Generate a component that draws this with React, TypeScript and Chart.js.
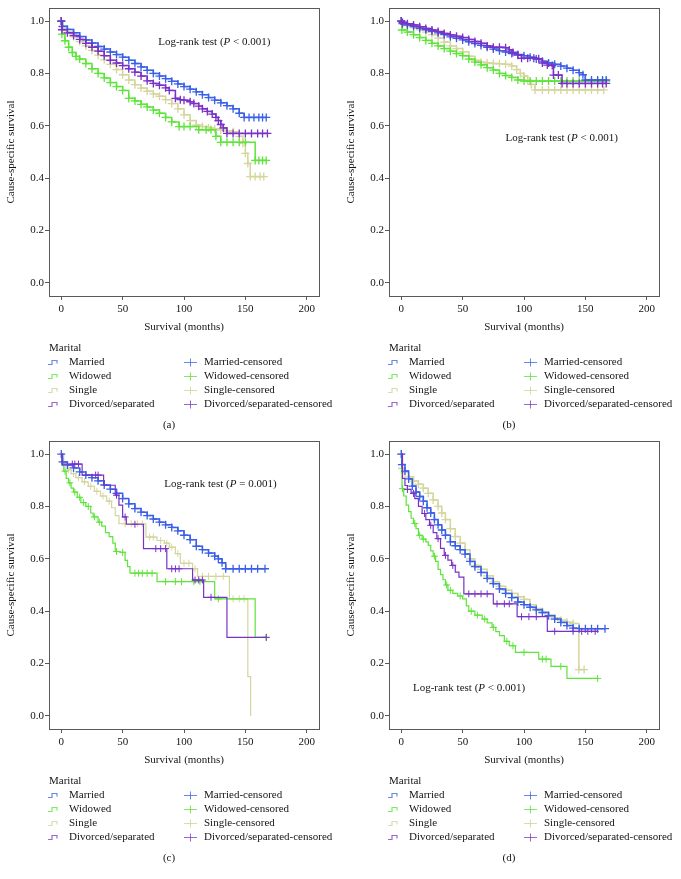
import React, { useEffect, useRef } from "react";
import { Chart, registerables } from "chart.js";

Chart.register(...registerables);

const FONT = '"Liberation Serif", "Times New Roman", Times, serif';
const TEXT = "#141414";
const FRAME = "#58595b";

const xTicks = [0, 50, 100, 150, 200];
const yTicks = [0, 0.2, 0.4, 0.6, 0.8, 1.0];
const xTitle = "Survival (months)";
const yTitle = "Cause-specific survival";
const legendTitle = "Marital";
const groupNames = ["Married", "Widowed", "Single", "Divorced/separated"];
const groupColors = ["#3a5fe8", "#5ee43a", "#d5d59e", "#7a31c6"];
const legendColors = ["rgba(58,95,232,0.75)", "rgba(94,228,58,0.8)", "rgba(213,213,158,0.85)", "rgba(122,49,198,0.75)"];

// ---------- Panel (a) ----------
const aMarriedT = [0, 1, 5, 10, 15, 20, 25, 30, 35, 40, 45, 50, 55, 60, 65, 70, 75, 80, 85, 90, 95, 100, 105, 110, 115, 120, 125, 130, 135, 140, 145, 149, 153, 157, 161, 164, 167];
const aMarriedS = [1.0, 0.98, 0.968, 0.955, 0.941, 0.928, 0.916, 0.903, 0.893, 0.882, 0.872, 0.862, 0.85, 0.838, 0.825, 0.812, 0.8, 0.79, 0.78, 0.77, 0.76, 0.75, 0.74, 0.73, 0.719, 0.708, 0.698, 0.688, 0.677, 0.665, 0.648, 0.632, 0.632, 0.632, 0.632, 0.632, 0.632];
const aWidowedT = [0, 0.5, 3, 6, 9, 12, 15, 20, 25, 30, 35, 40, 45, 50, 55, 60, 65, 70, 75, 80, 85, 90, 96, 100, 105, 112, 118, 122, 126, 130, 135, 140, 145, 150, 158, 161, 164, 167];
const aWidowedS = [1.0, 0.95, 0.925, 0.9, 0.88, 0.865, 0.855, 0.838, 0.818, 0.8, 0.783, 0.765, 0.75, 0.735, 0.705, 0.695, 0.682, 0.672, 0.66, 0.648, 0.632, 0.615, 0.597, 0.597, 0.597, 0.585, 0.585, 0.585, 0.56, 0.537, 0.537, 0.537, 0.537, 0.537, 0.468, 0.468, 0.468, 0.468];
const aSingleT = [0, 1, 5, 10, 15, 20, 25, 30, 35, 40, 45, 50, 55, 60, 65, 70, 75, 80, 85, 90, 95, 100, 105, 110, 115, 120, 125, 130, 135, 140, 145, 148, 150, 152, 154, 158, 162, 165];
const aSingleS = [1.0, 0.975, 0.958, 0.94, 0.922, 0.905, 0.888, 0.87, 0.852, 0.835, 0.815, 0.795, 0.775, 0.757, 0.744, 0.732, 0.722, 0.713, 0.7, 0.685, 0.665, 0.642, 0.62, 0.603, 0.597, 0.592, 0.588, 0.584, 0.58, 0.577, 0.56, 0.533, 0.495, 0.456, 0.406, 0.406, 0.406, 0.406];
const aDivorcedT = [0, 0.5, 5, 10, 15, 20, 25, 30, 35, 40, 45, 50, 55, 60, 65, 70, 75, 80, 85, 88, 93, 97, 100, 105, 108, 112, 115, 119, 123, 126, 128, 130, 132, 135, 140, 145, 150, 155, 160, 164, 168];
const aDivorcedS = [1.0, 0.967, 0.955, 0.945, 0.93, 0.915, 0.9, 0.885, 0.868, 0.85, 0.84, 0.83, 0.818, 0.805, 0.79, 0.772, 0.762, 0.755, 0.745, 0.735, 0.705, 0.7, 0.698, 0.692, 0.685, 0.675, 0.665, 0.655, 0.645, 0.632, 0.62, 0.605, 0.592, 0.571, 0.571, 0.571, 0.571, 0.571, 0.571, 0.571, 0.571];

// ---------- Panel (b) ----------
const bMarriedT = [0, 1, 5, 10, 15, 20, 25, 30, 35, 40, 45, 50, 55, 60, 65, 70, 75, 80, 85, 90, 95, 100, 105, 110, 115, 120, 125, 130, 135, 140, 145, 148, 150, 155, 160, 164, 167];
const bMarriedS = [1.0, 0.99, 0.985, 0.979, 0.972, 0.967, 0.961, 0.955, 0.948, 0.94, 0.934, 0.928, 0.921, 0.914, 0.907, 0.9, 0.893, 0.887, 0.882, 0.876, 0.872, 0.868, 0.862, 0.855, 0.847, 0.84, 0.835, 0.828, 0.82, 0.812, 0.803, 0.795, 0.775, 0.775, 0.775, 0.775, 0.775];
const bWidowedT = [0, 0.5, 5, 10, 15, 20, 25, 30, 35, 40, 45, 50, 55, 60, 65, 70, 75, 80, 85, 90, 95, 100, 105, 110, 115, 120, 125, 130, 135, 140, 145, 150, 155, 160, 164, 167];
const bWidowedS = [1.0, 0.966, 0.958, 0.948, 0.937, 0.926, 0.915, 0.905, 0.895, 0.885, 0.876, 0.868, 0.855, 0.843, 0.833, 0.822, 0.813, 0.8, 0.792, 0.785, 0.775, 0.771, 0.771, 0.771, 0.771, 0.771, 0.771, 0.771, 0.771, 0.771, 0.771, 0.771, 0.771, 0.771, 0.771, 0.771];
const bSingleT = [0, 1, 5, 10, 15, 20, 25, 30, 35, 40, 45, 50, 55, 60, 65, 70, 75, 80, 85, 90, 94, 97, 100, 103, 106, 109, 115, 120, 125, 130, 135, 140, 145, 150, 155, 160, 165];
const bSingleS = [1.0, 0.99, 0.983, 0.975, 0.967, 0.958, 0.948, 0.935, 0.92, 0.905, 0.895, 0.883, 0.866, 0.85, 0.843, 0.84, 0.838, 0.837, 0.835, 0.828, 0.815, 0.8, 0.79, 0.775, 0.758, 0.737, 0.737, 0.737, 0.737, 0.737, 0.737, 0.737, 0.737, 0.737, 0.737, 0.737, 0.737];
const bDivorcedT = [0, 1, 5, 10, 15, 20, 25, 30, 35, 40, 45, 50, 55, 60, 65, 70, 75, 80, 85, 88, 91, 95, 98, 103, 108, 112, 115, 119, 123, 124, 128, 131, 135, 140, 145, 150, 155, 160, 164, 167];
const bDivorcedS = [1.0, 0.995, 0.99, 0.985, 0.978, 0.972, 0.966, 0.96, 0.953, 0.947, 0.942, 0.937, 0.93, 0.922, 0.915, 0.905, 0.9, 0.9, 0.898, 0.89, 0.88, 0.87, 0.858, 0.858, 0.858, 0.856, 0.84, 0.832, 0.83, 0.794, 0.794, 0.762, 0.762, 0.762, 0.762, 0.762, 0.762, 0.762, 0.762, 0.762];

// ---------- Panel (c) ----------
const cMarriedT = [0, 1, 5, 10, 15, 20, 25, 30, 35, 40, 45, 50, 55, 60, 65, 70, 75, 80, 85, 90, 95, 100, 105, 110, 115, 120, 125, 128, 131, 134, 140, 145, 150, 155, 160, 166];
const cMarriedS = [1.0, 0.97, 0.958, 0.947, 0.932, 0.92, 0.91, 0.898, 0.882, 0.866, 0.85, 0.83, 0.81, 0.792, 0.778, 0.765, 0.752, 0.74, 0.73, 0.72, 0.707, 0.69, 0.673, 0.648, 0.635, 0.622, 0.61, 0.6, 0.585, 0.562, 0.562, 0.562, 0.562, 0.562, 0.562, 0.562];
const cWidowedT = [0, 0.5, 2, 4, 6, 8, 10, 13, 16, 20, 24, 26, 30, 33, 36, 39, 42, 44, 48, 52, 54, 56, 78, 125, 158, 167];
const cWidowedS = [1.0, 0.958, 0.935, 0.907, 0.89, 0.87, 0.855, 0.835, 0.815, 0.8, 0.775, 0.76, 0.74, 0.725, 0.7, 0.685, 0.66, 0.628, 0.625, 0.594, 0.57, 0.545, 0.513, 0.447, 0.3, 0.3];
const cWidowedCensT = [3, 7, 11, 15, 18, 22, 27, 31, 45, 50, 60, 63, 66, 70, 74, 85, 93, 98, 108, 113, 128, 167];
const cWidowedCensS = [0.935, 0.89, 0.855, 0.835, 0.815, 0.8, 0.76, 0.74, 0.628, 0.625, 0.545, 0.545, 0.545, 0.545, 0.545, 0.513, 0.513, 0.513, 0.513, 0.513, 0.447, 0.3];
const cSingleT = [0, 2, 5, 8, 12, 17, 22, 27, 32, 37, 41, 44, 47, 69, 78, 84, 88, 93, 97, 107, 111, 137, 152, 154.3];
const cSingleS = [1.0, 0.96, 0.94, 0.925, 0.91, 0.894, 0.877, 0.858, 0.84, 0.82, 0.795, 0.765, 0.734, 0.683, 0.67, 0.66, 0.645, 0.62, 0.583, 0.562, 0.533, 0.447, 0.15, 0.0];
const cSingleCensT = [3, 6, 10, 14, 19, 24, 29, 34, 39, 52, 57, 62, 66, 72, 75, 81, 86, 90, 95, 100, 104, 109, 115, 120, 126, 132, 140, 145, 149];
const cSingleCensS = [0.96, 0.94, 0.925, 0.91, 0.894, 0.877, 0.858, 0.84, 0.82, 0.734, 0.734, 0.734, 0.734, 0.683, 0.683, 0.67, 0.66, 0.645, 0.62, 0.583, 0.583, 0.562, 0.533, 0.533, 0.533, 0.533, 0.447, 0.447, 0.447];
const cDivorcedT = [0, 0.5, 17, 34.5, 44, 47, 50, 53, 67, 86, 107, 116, 135, 167];
const cDivorcedS = [1.0, 0.962, 0.92, 0.881, 0.843, 0.805, 0.76, 0.732, 0.639, 0.562, 0.519, 0.453, 0.3, 0.3];
const cDivorcedCensT = [9, 11, 14, 28, 30, 45, 52, 60, 77, 81, 85, 90, 93, 96, 109, 112, 115, 122, 167];
const cDivorcedCensS = [0.962, 0.962, 0.962, 0.92, 0.92, 0.843, 0.76, 0.732, 0.639, 0.639, 0.639, 0.562, 0.562, 0.562, 0.519, 0.519, 0.519, 0.453, 0.3];

// ---------- Panel (d) ----------
const dMarriedT = [0, 0.5, 3, 6, 9, 12, 15, 18, 21, 24, 27, 30, 33, 36, 40, 44, 48, 52, 56, 60, 65, 70, 75, 80, 85, 90, 95, 100, 105, 110, 115, 120, 125, 130, 135, 140, 145, 150, 155, 160, 166];
const dMarriedS = [1.0, 0.96, 0.935, 0.905, 0.878, 0.855, 0.838, 0.82, 0.795, 0.775, 0.75, 0.73, 0.71, 0.69, 0.665, 0.65, 0.635, 0.618, 0.59, 0.57, 0.548, 0.525, 0.505, 0.485, 0.468, 0.452, 0.435, 0.425, 0.415, 0.405, 0.395, 0.383, 0.37, 0.357, 0.345, 0.335, 0.333, 0.333, 0.333, 0.333, 0.333];
const dWidowedT = [0, 0.3, 0.6, 2, 4, 6, 8, 10, 12, 14, 17, 20, 22, 24, 26, 28, 30, 32, 34, 36, 38, 42, 46, 50, 53, 55, 60, 66, 70, 74, 77, 80, 84, 88, 93, 112, 122, 135, 160];
const dWidowedS = [1.0, 0.932, 0.868, 0.84, 0.805, 0.78, 0.755, 0.735, 0.715, 0.69, 0.675, 0.665, 0.651, 0.63, 0.61, 0.59, 0.56, 0.54, 0.52, 0.5, 0.48, 0.468, 0.458, 0.447, 0.42, 0.4, 0.385, 0.37, 0.355, 0.338, 0.322, 0.307, 0.285, 0.268, 0.243, 0.217, 0.189, 0.143, 0.143];
const dWidowedCensT = [1, 11, 15, 18, 27, 37, 40, 48, 57, 62, 68, 75, 86, 91, 100, 115, 118, 130, 160];
const dWidowedCensS = [0.868, 0.735, 0.69, 0.675, 0.61, 0.5, 0.48, 0.458, 0.4, 0.385, 0.37, 0.338, 0.285, 0.268, 0.243, 0.217, 0.217, 0.189, 0.143];
const dSingleT = [0, 0.5, 3, 6, 10, 14, 18, 22, 26, 30, 33, 36, 40, 44, 48, 52, 56, 60, 65, 70, 75, 80, 85, 90, 95, 100, 105, 110, 115, 120, 125, 130, 135, 140, 144.7, 149];
const dSingleS = [1.0, 0.945, 0.93, 0.913, 0.897, 0.885, 0.87, 0.85, 0.825, 0.8, 0.775, 0.75, 0.715, 0.685, 0.66, 0.635, 0.6, 0.575, 0.56, 0.535, 0.512, 0.495, 0.48, 0.468, 0.455, 0.445, 0.425, 0.41, 0.395, 0.385, 0.375, 0.365, 0.358, 0.353, 0.177, 0.177];
const dDivorcedT = [0, 1, 3, 5, 8, 11, 14, 17, 20, 23, 26, 29, 32, 35, 38, 41, 44, 47, 51, 75, 94.4, 119, 159.7];
const dDivorcedS = [1.0, 0.907, 0.88, 0.865, 0.85, 0.83, 0.8, 0.773, 0.75, 0.728, 0.7, 0.677, 0.64, 0.613, 0.595, 0.575, 0.549, 0.53, 0.466, 0.428, 0.379, 0.323, 0.323];
const dDivorcedCensT = [5, 10, 19, 24, 30, 36, 42, 55, 60, 65, 70, 78, 84, 88, 98, 104, 110, 125, 140, 147, 152, 158];
const dDivorcedCensS = [0.865, 0.85, 0.773, 0.728, 0.677, 0.613, 0.575, 0.466, 0.466, 0.466, 0.466, 0.428, 0.428, 0.428, 0.379, 0.379, 0.379, 0.323, 0.323, 0.323, 0.323, 0.323];

type Group = { t: number[]; s: number[]; ct: number[]; cs: number[]; dense: boolean };
type PanelDef = {
  caption: string;
  left: number;
  top: number;
  height: number;
  pText: string;
  textX: number;
  textY: number;
  groups: Group[];
};

const panelDefs: PanelDef[] = [
  {
    caption: "(a)", left: 0, top: 0, height: 433, pText: "< 0.001", textX: 79, textY: 0.92,
    groups: [
      { t: aMarriedT, s: aMarriedS, ct: aMarriedT, cs: aMarriedS, dense: true },
      { t: aWidowedT, s: aWidowedS, ct: aWidowedT, cs: aWidowedS, dense: true },
      { t: aSingleT, s: aSingleS, ct: aSingleT, cs: aSingleS, dense: true },
      { t: aDivorcedT, s: aDivorcedS, ct: aDivorcedT, cs: aDivorcedS, dense: true },
    ],
  },
  {
    caption: "(b)", left: 340, top: 0, height: 433, pText: "< 0.001", textX: 85, textY: 0.552,
    groups: [
      { t: bMarriedT, s: bMarriedS, ct: bMarriedT, cs: bMarriedS, dense: true },
      { t: bWidowedT, s: bWidowedS, ct: bWidowedT, cs: bWidowedS, dense: true },
      { t: bSingleT, s: bSingleS, ct: bSingleT, cs: bSingleS, dense: true },
      { t: bDivorcedT, s: bDivorcedS, ct: bDivorcedT, cs: bDivorcedS, dense: true },
    ],
  },
  {
    caption: "(c)", left: 0, top: 433, height: 446, pText: "= 0.001", textX: 84, textY: 0.884,
    groups: [
      { t: cMarriedT, s: cMarriedS, ct: cMarriedT, cs: cMarriedS, dense: true },
      { t: cWidowedT, s: cWidowedS, ct: cWidowedCensT, cs: cWidowedCensS, dense: false },
      { t: cSingleT, s: cSingleS, ct: cSingleCensT, cs: cSingleCensS, dense: false },
      { t: cDivorcedT, s: cDivorcedS, ct: cDivorcedCensT, cs: cDivorcedCensS, dense: false },
    ],
  },
  {
    caption: "(d)", left: 340, top: 433, height: 446, pText: "< 0.001", textX: 9.5, textY: 0.108,
    groups: [
      { t: dMarriedT, s: dMarriedS, ct: dMarriedT, cs: dMarriedS, dense: true },
      { t: dWidowedT, s: dWidowedS, ct: dWidowedCensT, cs: dWidowedCensS, dense: false },
      { t: dSingleT, s: dSingleS, ct: dSingleT, cs: dSingleS, dense: true },
      { t: dDivorcedT, s: dDivorcedS, ct: dDivorcedCensT, cs: dDivorcedCensS, dense: false },
    ],
  },
];

const PANEL_W = 340;
const font11 = { family: FONT, size: 11 };

function Panel({ def }: { def: PanelDef }) {
  const ref = useRef<HTMLCanvasElement | null>(null);

  useEffect(() => {
    const canvas = ref.current;
    if (!canvas) return;

    const paint = [2, 1, 0, 3]; // bottom -> top
    const datasets: any[] = [];
    paint.forEach((gi, k) => {
      const g = def.groups[gi];
      const color = groupColors[gi];
      const order = 100 - k * 2;
      datasets.push({
        label: groupNames[gi],
        data: g.t.map((x, i) => ({ x, y: g.s[i] })),
        borderColor: color,
        backgroundColor: color,
        borderWidth: g.dense ? 1.5 : 1.2,
        pointRadius: 0,
        stepped: "before",
        fill: false,
        tension: 0,
        order,
      });
      datasets.push({
        label: groupNames[gi] + "-censored",
        data: g.ct.map((x, i) => ({ x, y: g.cs[i] })),
        showLine: false,
        pointStyle: "cross",
        pointRadius: g.dense ? 4 : 3.5,
        pointBorderWidth: g.dense ? 1.3 : 1,
        borderColor: color,
        pointBorderColor: color,
        backgroundColor: color,
        order: order - 1,
      });
    });

    const framePlugin = {
      id: "frameAndText",
      afterDraw(chart: any) {
        const ctx = chart.ctx as CanvasRenderingContext2D;
        const ca = chart.chartArea;
        ctx.save();
        ctx.strokeStyle = FRAME;
        ctx.lineWidth = 1;
        ctx.strokeRect(Math.round(ca.left) + 0.5, Math.round(ca.top) + 0.5, Math.round(ca.right - ca.left), Math.round(ca.bottom - ca.top));

        // Log-rank annotation
        const xs = chart.scales.x;
        const ys = chart.scales.y;
        let cx = xs.getPixelForValue(def.textX);
        const cy = ys.getPixelForValue(def.textY);
        ctx.fillStyle = TEXT;
        ctx.textBaseline = "middle";
        ctx.textAlign = "left";
        const parts: [string, boolean][] = [["Log-rank test (", false], ["P", true], [" " + def.pText + ")", false]];
        for (const [txt, it] of parts) {
          ctx.font = `${it ? "italic " : ""}11px ${FONT}`;
          ctx.fillText(txt, cx, cy);
          cx += ctx.measureText(txt).width;
        }

        // Legend
        ctx.font = `11px ${FONT}`;
        ctx.fillText(legendTitle, 49, 348.5);
        groupNames.forEach((name, i) => {
          const y = 362.5 + i * 14;
          ctx.strokeStyle = legendColors[i];
          ctx.lineWidth = 1.2;
          ctx.beginPath();
          ctx.moveTo(48, y + 2);
          ctx.lineTo(52, y + 2);
          ctx.lineTo(52, y - 2);
          ctx.lineTo(57, y - 2);
          ctx.lineTo(57, y + 1);
          ctx.stroke();
          ctx.fillStyle = TEXT;
          ctx.fillText(name, 69, y);
          ctx.lineWidth = 1;
          ctx.beginPath();
          ctx.moveTo(184, y);
          ctx.lineTo(197, y);
          ctx.moveTo(190.5, y - 4);
          ctx.lineTo(190.5, y + 4);
          ctx.stroke();
          ctx.fillText(name + "-censored", 204, y);
        });
        ctx.textAlign = "center";
        ctx.fillText(def.caption, 169, 425);
        ctx.restore();
      },
    };

    const chart = new Chart(canvas, {
      type: "line",
      data: { datasets },
      options: {
        animation: false,
        responsive: false,
        maintainAspectRatio: false,
        devicePixelRatio: 1,
        events: [],
        layout: { padding: { top: 8, right: PANEL_W - 319, bottom: def.height - 334, left: 0 } },
        plugins: { legend: { display: false }, tooltip: { enabled: false } },
        scales: {
          x: {
            type: "linear",
            min: -10,
            max: 210,
            afterFit: (s: any) => { s.height = 38; },
            afterBuildTicks: (s: any) => { s.ticks = xTicks.map((v) => ({ value: v })); },
            grid: { display: true, drawOnChartArea: false, drawTicks: true, tickLength: 4, color: FRAME, tickColor: FRAME },
            border: { display: false },
            ticks: { font: font11, color: TEXT, padding: 3, maxRotation: 0, autoSkip: false, callback: (v: any) => String(v) },
            title: { display: true, text: xTitle, font: font11, color: TEXT, padding: { top: 0, bottom: 0 } },
          },
          y: {
            type: "linear",
            min: -0.05,
            max: 1.05,
            afterFit: (s: any) => { s.width = 49; },
            afterBuildTicks: (s: any) => { s.ticks = yTicks.map((v) => ({ value: v })); },
            grid: { display: true, drawOnChartArea: false, drawTicks: true, tickLength: 4, color: FRAME, tickColor: FRAME },
            border: { display: false },
            ticks: { font: font11, color: TEXT, padding: 1, autoSkip: false, callback: (v: any) => Number(v).toFixed(1) },
            title: { display: true, text: yTitle, font: font11, color: TEXT, padding: { top: 5, bottom: 0 } },
          },
        },
      } as any,
      plugins: [framePlugin],
    });

    return () => chart.destroy();
  }, [def]);

  return (
    <canvas
      ref={ref}
      width={PANEL_W}
      height={def.height}
      style={{ position: "absolute", left: def.left, top: def.top, width: PANEL_W, height: def.height }}
    />
  );
}

export default function App() {
  return (
    <div style={{ position: "absolute", left: 0, top: 0, width: 681, height: 879, background: "#ffffff", overflow: "hidden" }}>
      {panelDefs.map((d) => (
        <Panel key={d.caption} def={d} />
      ))}
    </div>
  );
}
